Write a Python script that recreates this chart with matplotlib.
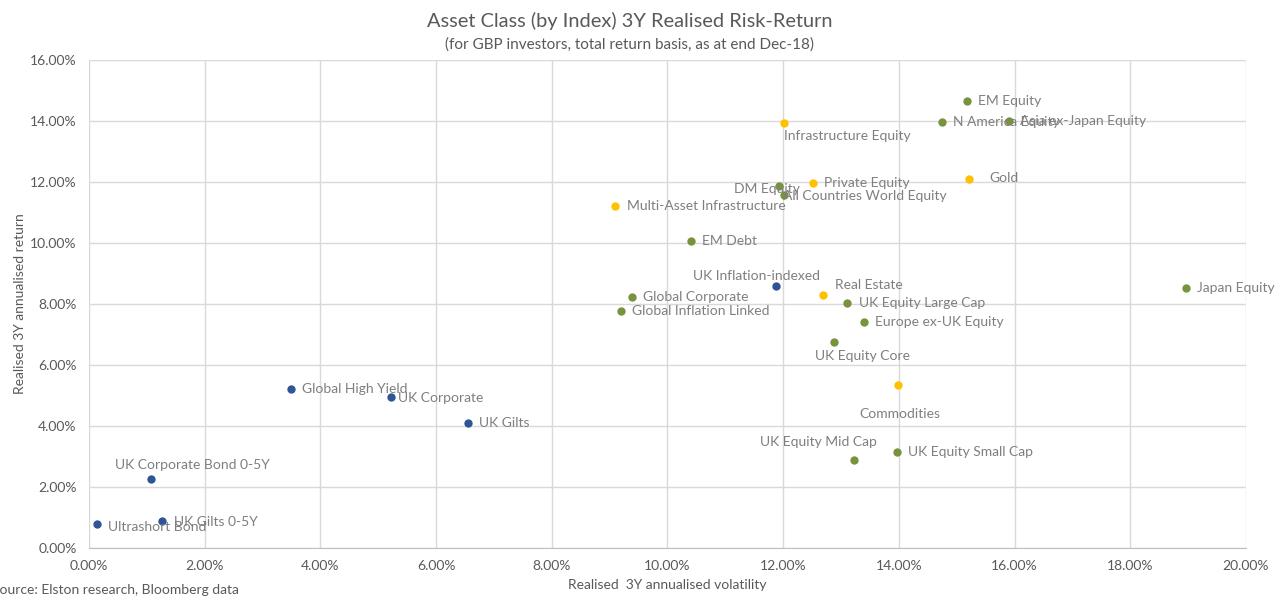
import matplotlib
matplotlib.use("Agg")
import matplotlib.pyplot as plt
from matplotlib.ticker import FuncFormatter, MultipleLocator

plt.rcParams['font.family'] = ['Lato', 'DejaVu Sans']

# Data (volatility %, return %)
names = ["Ultrashort Bond", "UK Gilts 0-5Y", "UK Corporate Bond 0-5Y", "Global High Yield",
         "UK Corporate", "UK Gilts", "UK Inflation-indexed",
         "Multi-Asset Infrastructure", "Infrastructure Equity", "Private Equity", "Gold",
         "Real Estate", "Commodities",
         "EM Debt", "Global Corporate", "Global Inflation Linked", "DM Equity",
         "All Countries World Equity", "EM Equity", "N America Equity", "Asia ex-Japan Equity",
         "UK Equity Large Cap", "Europe ex-UK Equity", "UK Equity Core", "UK Equity Small Cap",
         "UK Equity Mid Cap", "Japan Equity"]
vol = [0.14, 1.26, 1.07, 3.49, 5.22, 6.55, 11.88,
       9.10, 12.02, 12.52, 15.22, 12.68, 13.99,
       10.41, 9.38, 9.19, 11.92, 12.02, 15.18, 14.75, 15.91,
       13.11, 13.39, 12.88, 13.97, 13.23, 18.96]
ret = [0.79, 0.89, 2.26, 5.21, 4.95, 4.10, 8.59,
       11.21, 13.93, 11.97, 12.10, 8.30, 5.34,
       10.07, 8.23, 7.77, 11.87, 11.57, 14.66, 13.97, 14.00,
       8.03, 7.41, 6.75, 3.15, 2.89, 8.52]
group = ["bond"] * 7 + ["alt"] * 6 + ["equity"] * 14

colors = {"bond": "#2F5597", "alt": "#FFC000", "equity": "#77933C"}

# label placement (offset in points, horizontal alignment, vertical alignment)
default_pos = (8, 0, "left", "center")
label_pos = {
    "Ultrashort Bond": (8, -2, "left", "center"),
    "UK Gilts 0-5Y": (9, -1, "left", "center"),
    "UK Corporate Bond 0-5Y": (-26, 10, "left", "center"),
    "UK Corporate": (5, -1, "left", "center"),
    "UK Inflation-indexed": (-60, 7, "left", "center"),
    "Infrastructure Equity": (0, -9, "left", "center"),
    "DM Equity": (-32, -2, "left", "center"),
    "All Countries World Equity": (-1, -1, "left", "center"),
    "Real Estate": (9, 7, "left", "center"),
    "UK Equity Core": (-14, -10, "left", "center"),
    "Commodities": (-28, -21, "left", "center"),
    "UK Equity Mid Cap": (-68, 13, "left", "center"),
    "Gold": (14, 1, "left", "center"),
}

fig = plt.figure(figsize=(12.85, 6), dpi=100)
ax = fig.add_axes([0.0693, 0.0867, 0.9003, 0.8133])

for n, x, y, g in zip(names, vol, ret, group):
    ax.scatter(x, y, s=36, color=colors[g], zorder=3, linewidths=0)
    dx, dy, ha, va = label_pos.get(n, default_pos)
    ax.annotate(n, (x, y), xytext=(dx, dy), textcoords="offset points",
                ha=ha, va=va, fontsize=10, color="#7F7F7F", zorder=4)

ax.set_xlim(0, 20)
ax.set_ylim(0, 16)
ax.xaxis.set_major_locator(MultipleLocator(2))
ax.yaxis.set_major_locator(MultipleLocator(2))
pct = FuncFormatter(lambda v, p: f"{v:.2f}%")
ax.xaxis.set_major_formatter(pct)
ax.yaxis.set_major_formatter(pct)
ax.grid(True, color="#D9D9D9", linewidth=1)
ax.set_axisbelow(True)
for s in ["top", "right", "left"]:
    ax.spines[s].set_visible(False)
ax.spines["bottom"].set_color("#BFBFBF")
ax.tick_params(length=0, labelsize=10, labelcolor="#595959", pad=9)

ax.set_xlabel("Realised  3Y annualised volatility", fontsize=10, color="#595959", labelpad=5)
ax.set_ylabel("Realised 3Y annualised return", fontsize=10, color="#595959", labelpad=3)

fig.text(0.49, 0.965, "Asset Class (by Index) 3Y Realised Risk-Return", ha="center", va="center",
         fontsize=14.4, color="#595959")
fig.text(0.49, 0.925, "(for GBP investors, total return basis, as at end Dec-18)", ha="center",
         va="center", fontsize=11, color="#595959")
fig.text(-0.006, 0.017, "Source: Elston research, Bloomberg data", ha="left", va="center",
         fontsize=10, color="#595959")

fig.savefig("out.png", dpi=100)
